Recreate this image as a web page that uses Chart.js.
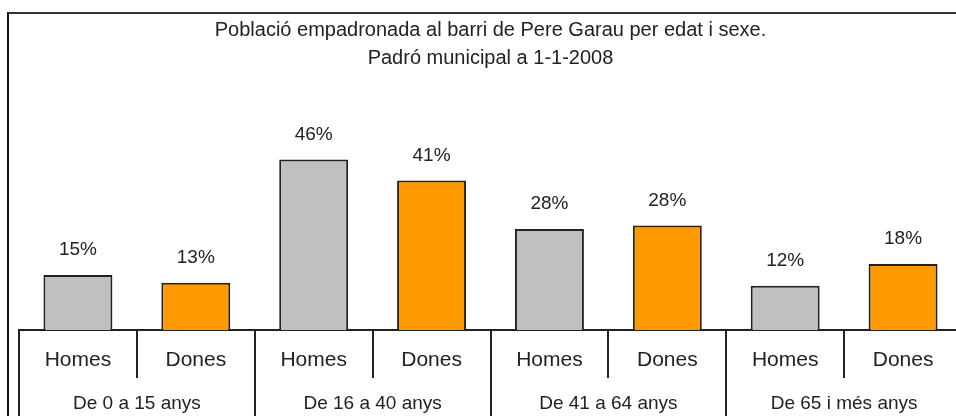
<!DOCTYPE html>
<html>
<head>
<meta charset="utf-8">
<script src="https://cdn.jsdelivr.net/npm/chart.js@4/dist/chart.umd.min.js"></script>
<style>
  html, body { margin: 0; padding: 0; background: #fff; overflow: hidden; }
  #wrap { position: relative; width: 956px; height: 416px; overflow: hidden; }
  #myChart { position: absolute; left: 0; top: 0; }
  #frame {
    position: absolute; left: 7px; top: 12px; width: 2000px; height: 1000px;
    border-top: 2px solid #333; border-left: 2px solid #111;
    pointer-events: none;
  }
</style>
</head>
<body>
<div id="wrap">
  <canvas id="myChart" width="1000" height="430"></canvas>
  <div id="frame"></div>
</div>
<script>
const titleLines = ['Població empadronada al barri de Pere Garau per edat i sexe.', 'Padró municipal a 1-1-2008'];
const ageGroups = ['De 0 a 15 anys', 'De 16 a 40 anys', 'De 41 a 64 anys', 'De 65 i més anys'];
const sexes = ['Homes', 'Dones'];
const homesPct = [14.9, 46.2, 27.4, 12.0];
const donesPct = [12.8, 40.5, 28.3, 17.9];
const homesText = ['15%', '46%', '28%', '12%'];
const donesText = ['13%', '41%', '28%', '18%'];

const sexColors = { Homes: '#c0c0c0', Dones: '#ff9900' };
const FONT = '"Liberation Sans", Arial, sans-serif';
const INK = '#222';

// one bar per (group, sex), in drawing order
const labels = ageGroups.flatMap(() => sexes);
const values = ageGroups.flatMap((g, i) => [homesPct[i], donesPct[i]]);
const valueText = ageGroups.flatMap((g, i) => [homesText[i], donesText[i]]);

const barValues = {
    id: 'barValues',
    afterDatasetsDraw(chart) {
        const ctx = chart.ctx;
        const meta = chart.getDatasetMeta(0);
        ctx.save();
        ctx.font = '19px ' + FONT;
        ctx.fillStyle = INK;
        ctx.textAlign = 'center';
        ctx.textBaseline = 'middle';
        meta.data.forEach((bar, i) => {
            ctx.fillText(valueText[i], bar.x, bar.y - 25);
        });
        ctx.restore();
    }
};

let ctx = document.getElementById('myChart').getContext('2d');
let myChart = new Chart(ctx, {
    type: 'bar',
    data: {
        labels: labels,
        datasets: [{
            data: values,
            backgroundColor: labels.map(s => sexColors[s]),
            borderColor: INK,
            borderWidth: 2,
            categoryPercentage: 1,
            barPercentage: 0.585
        }]
    },
    options: {
        responsive: false,
        animation: false,
        devicePixelRatio: 1,
        layout: { padding: { left: 19, right: 38, top: 17, bottom: 8 } },
        plugins: {
            legend: { display: false },
            tooltip: { enabled: false },
            title: {
                display: true,
                text: titleLines,
                fullSize: false,
                color: INK,
                font: { family: FONT, size: 20, weight: 'normal', lineHeight: 1.38 },
                padding: { top: 0, bottom: 18 }
            }
        },
        scales: {
            x: {
                position: 'bottom',
                offset: true,
                grid: { offset: true, drawOnChartArea: false, tickLength: 48, color: INK, lineWidth: 2 },
                border: { display: true, color: INK, width: 2 },
                ticks: { padding: -30, color: INK, font: { family: FONT, size: 21 }, maxRotation: 0, autoSkip: false },
                // keep the box tall enough so the labels are not clipped
                afterFit: (scale) => { scale.height = 48; }
            },
            x2: {
                type: 'category',
                labels: ageGroups,
                position: 'bottom',
                offset: true,
                grid: { offset: true, drawOnChartArea: false, tickLength: 44, color: INK, lineWidth: 2 },
                border: { display: false },
                ticks: { padding: -30, color: INK, font: { family: FONT, size: 19 }, maxRotation: 0, autoSkip: false },
                afterFit: (scale) => { scale.height = 44; }
            },
            y: { display: false, min: 0, max: 65 }
        }
    },
    plugins: [barValues]
});
</script>
</body>
</html>
